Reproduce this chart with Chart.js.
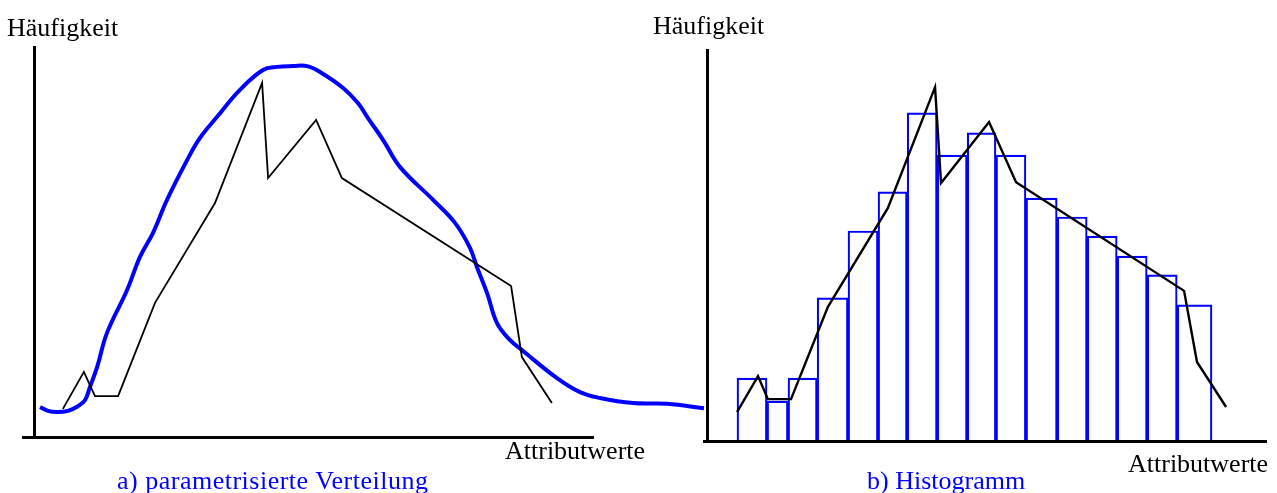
<!DOCTYPE html>
<html><head><meta charset="utf-8">
<script src="https://cdn.jsdelivr.net/npm/chart.js@4.4.1/dist/chart.umd.min.js"></script>
<style>
html,body{margin:0;padding:0;background:#fff;width:1277px;height:493px;overflow:hidden;position:relative}
.c{position:absolute;top:0}
.t{position:absolute;font-family:"Liberation Serif","Times New Roman",serif;font-size:26px;line-height:26px;white-space:nowrap;color:#000}
.b{color:#0000ff}
</style></head><body>
<div class="c" style="left:0;width:712px;height:493px"><canvas id="left" width="712" height="493"></canvas></div>
<div class="c" style="left:690px;width:587px;height:493px"><canvas id="right" width="587" height="493"></canvas></div>
<div class="t" style="left:7px;top:15px">Häufigkeit</div>
<div class="t" style="left:505px;top:438px">Attributwerte</div>
<div class="t b" style="left:117px;top:468px;letter-spacing:0.5px">a) parametrisierte Verteilung</div>
<div class="t" style="left:653px;top:13px">Häufigkeit</div>
<div class="t b" style="left:867px;top:468px">b) Histogramm</div>
<div class="t" style="left:1128px;top:451px">Attributwerte</div>
<script>
// ---- a) parametrisierte Verteilung ----
const curveX = [0.57,0.83,1.13,1.5,1.83,2.07,2.23,2.47,2.8,3.47,3.9,4.33,4.8,5.47,5.9,6.47,7.23,8.0,8.47,9.0,9.47,9.9,10.67,11.17,11.47,12.0,12.57,13.67,14.4,14.9,15.13,15.47,15.8,16.23,16.63,17.8,18.57,19.23,20.33,21.47,22.7];
const curveY = [7.7,6.7,6.4,6.7,7.9,9.5,12.8,17.9,26.7,37.7,46.2,52.3,60.8,71.0,76.7,82.1,89.0,94.1,94.9,95.1,95.1,93.6,89.5,85.6,82.1,76.2,69.2,60.8,54.9,48.5,43.6,36.9,29.2,24.9,22.3,15.1,11.5,10.0,8.7,8.5,7.4];
const polyAX = [1.33,2.03,2.4,3.17,4.4,6.4,7.97,8.17,9.77,10.63,16.27,16.63,17.63];
const polyAY = [7.2,16.7,10.5,10.5,34.4,60.0,90.8,66.4,81.3,66.4,38.7,20.5,8.7];

// ---- b) Histogramm ----
const binLo = [1.1,2.1,2.8,3.77,4.8,5.8,6.77,7.77,8.77,9.73,10.73,11.77,12.77,13.77,14.77,15.77];
const binHi = [2.1,2.8,3.77,4.8,5.8,6.77,7.77,8.77,9.73,10.73,11.77,12.77,13.77,14.77,15.77,16.93];
const binCount = [16.1,10.2,16.1,36.6,53.7,63.7,83.9,73.1,78.8,73.1,62.1,57.3,52.4,47.3,42.5,34.8];
const polyBX = [1.1,1.8,2.13,2.9,4.13,6.13,7.7,7.9,9.5,10.4,16.0,16.43,17.4];
const polyBY = [7.4,16.6,10.7,10.7,34.3,59.6,90.5,66.0,81.6,66.2,38.4,20.2,8.7];

const zip = (xs, ys) => xs.map((x, i) => ({x, y: ys[i]}));

function axes(xmin, xmax, yAt) {
  const common = {ticks:{display:false}, grid:{display:false, drawTicks:false}, border:{display:true, color:'#000', width:3, z:1}};
  return {
    x: Object.assign({type:'linear', min:xmin, max:xmax, offset:false}, common),
    y: Object.assign({type:'linear', min:0, max:100, position:{x:yAt}}, common)
  };
}
const baseOpts = {responsive:false, maintainAspectRatio:false, animation:false, events:[],
  plugins:{legend:{display:false}, tooltip:{enabled:false}, title:{display:false}}};

const leftScales = axes(0, 19, 0.37);
// same mapping as x, but without fixed user bounds so the curve may run past the axis end
const fixX2 = (s) => { s.min = 0; s.max = 19; };
leftScales.x2 = {type:'linear', display:false, offset:false, bounds:'data',
  afterDataLimits:fixX2, afterBuildTicks:fixX2};

new Chart(document.getElementById('left'), {
  type:'line',
  data:{datasets:[
    {data:zip(polyAX, polyAY), borderColor:'#000', borderWidth:1.8, pointRadius:0, tension:0, order:0},
    {data:zip(curveX, curveY), xAxisID:'x2', borderColor:'#0000ff', borderWidth:4, pointRadius:0, tension:0.4, clip:false, order:1}
  ]},
  options:Object.assign({}, baseOpts, {
    layout:{padding:{left:23, right:119, top:47, bottom:56}},
    scales:leftScales
  })
});

const barSets = binCount.map((h, i) => ({
  type:'bar',
  data:[{x:(binLo[i] + binHi[i]) / 2, y:h}],
  grouped:false,
  barThickness:(ctx) => {
    const s = ctx.chart.scales && ctx.chart.scales.x;
    if (!s || !s.width) return 30;
    return s.getPixelForValue(binHi[i]) - s.getPixelForValue(binLo[i]);
  },
  backgroundColor:'rgba(0,0,0,0)', borderColor:'#0000ff', borderWidth:1.5, order:1
}));

const rightChart = new Chart(document.getElementById('right'), {
  type:'bar',
  data:{datasets:[
    {type:'line', data:zip(polyBX, polyBY), borderColor:'#000', borderWidth:2.4, pointRadius:0, tension:0, order:0}
  ].concat(barSets)},
  options:Object.assign({}, baseOpts, {
    layout:{padding:{left:14, right:11, top:50, bottom:52}},
    scales:axes(0, 18.73, 0.1)
  })
});
rightChart.update();
</script>
</body></html>
